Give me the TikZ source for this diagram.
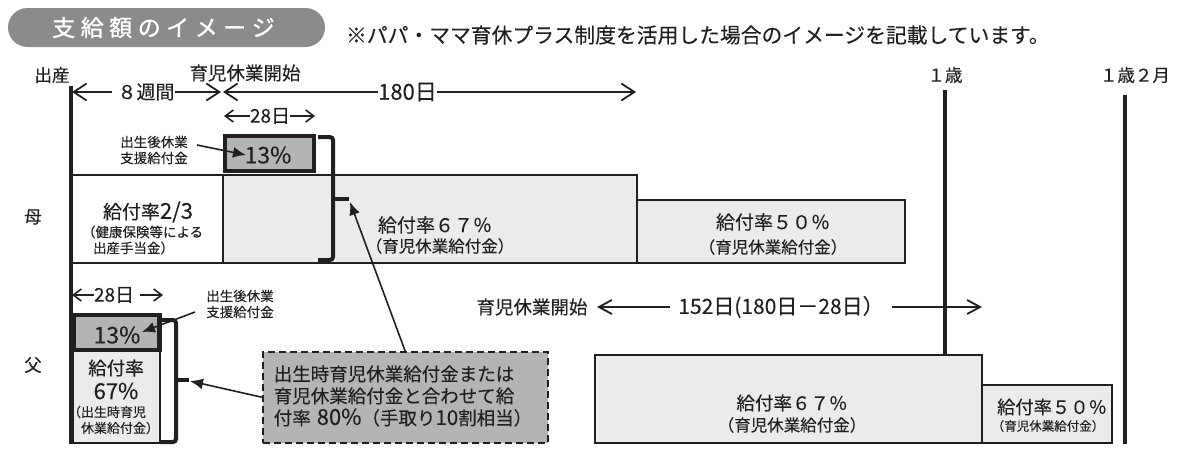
\documentclass[tikz,border=0pt]{standalone}
\usepackage{fontspec}
\setmainfont{Noto Sans CJK JP}[FakeBold=0.15]
\newfontfamily\titlefont{Noto Sans CJK JP}[FakeBold=1.2]
\usetikzlibrary{arrows.meta}
\definecolor{ink}{HTML}{231F20}
\definecolor{pillgray}{HTML}{8B8B8D}
\definecolor{lightfill}{HTML}{EBEBED}
\definecolor{midfill}{HTML}{B3B4B6}
\newcommand\fsz[2]{\fontsize{#1}{#2}\selectfont}
\tikzset{
  bigtip/.tip={Straight Barb[length=13pt,width=17pt,line width=1.8pt]},
  midtip/.tip={Straight Barb[length=13pt,width=14pt,line width=1.8pt]},
  smalltip/.tip={Straight Barb[length=8pt,width=12pt,line width=1.6pt]},
}
\begin{document}
\begin{tikzpicture}[x=1pt,y=-1pt,
  every node/.style={text=ink, inner sep=0pt, outer sep=0pt},
  plainbox/.style={draw=ink, line width=1.8pt, fill=lightfill},
  heavybox/.style={draw=ink, line width=4.5pt, fill=midfill},
  timeline/.style={draw=ink, line width=3.2pt},
  dimline/.style={draw=ink, line width=1.6pt},
  bracketline/.style={draw=ink, line width=4pt, rounded corners=3pt},
  pointer/.style={draw=ink, line width=1.6pt, -{Latex[length=13pt,width=11pt]}},
  calloutbox/.style={draw=ink, line width=2pt, dash pattern=on 7pt off 4pt, fill=midfill},
]
\useasboundingbox (0,0) rectangle (1197,458);

% title pill and note
\node[fill=pillgray, rounded corners=19.5pt, minimum width=317pt, minimum height=39pt] (title) at (166.5,27.5) {};
\node[text=white, font=\titlefont\fsz{23}{24}] (titletext) at (163.5,27.5) {支\kern5.5pt 給\kern5.5pt 額\kern5.5pt の\kern5.5pt イ\kern5.5pt メ\kern5.5pt ー\kern5.5pt ジ};
\node[anchor=west, font=\fsz{20.8}{22}] (remark) at (346,35) {※パパ・ママ育休プラス制度を活用した場合のイメージを記載しています。};

% timeline labels
\node[font=\fsz{17.5}{19}] (tBirth) at (52,75) {出産};
\node[font=\fsz{18.5}{20}] (tLeave) at (245,73) {育児休業開始};
\node[font=\fsz{17.5}{19}] (tOne) at (945,75) {１歳};
\node[font=\fsz{17.5}{19}] (tOneTwo) at (1135,75) {１歳２月};

% mother boxes
\node[plainbox, minimum width=414pt, minimum height=88pt] (m67) at (430,219) {};
\node[plainbox, fill=white, minimum width=152pt, minimum height=88pt] (m23) at (147,219) {};
\node[plainbox, minimum width=268pt, minimum height=63pt] (m50) at (771,231.5) {};
\node[heavybox, minimum width=89pt, minimum height=35pt] (m13) at (269.5,153.5) {};

% father boxes
\node[plainbox, minimum width=87pt, minimum height=93pt] (f67s) at (116.5,396.5) {};
\node[heavybox, minimum width=86pt, minimum height=35pt] (f13) at (116.5,332.5) {};
\node[plainbox, minimum width=387pt, minimum height=88pt] (f67) at (788.5,399) {};
\node[plainbox, minimum width=130pt, minimum height=58pt] (f50) at (1047,414) {};

% callout
\node[calloutbox, minimum width=285pt, minimum height=91pt] (note) at (405.5,397.5) {};
\node[align=left, font=\fsz{18.5}{22}] (notetext) at (403,396) {出生時育児休業給付金または\\育児休業給付金と合わせて給\\付率\hspace{6pt}{\fsz{22}{22}80\%}（手取り{\fsz{20.5}{22}10}割相当）};

% timeline vertical lines
\coordinate (birthTop) at (71,86);
\coordinate (birthBot) at (71,444);
\coordinate (oneTop) at (945,90);
\coordinate (oneBot) at (945,355);
\coordinate (oneTwoTop) at (1125,95);
\coordinate (oneTwoBot) at (1125,444);
\draw[timeline] (birthTop) -- (birthBot);
\draw[timeline] (oneTop) -- (oneBot);
\draw[timeline] (oneTwoTop) -- (oneTwoBot);

% top dimension arrows
\coordinate (a8L) at (72,92);
\coordinate (a8R) at (221,92);
\coordinate (a180L) at (223,92);
\coordinate (a180R) at (636,92);
\node[font=\fsz{19}{21}] (t8) at (146,92) {８週間};
\node[font=\fsz{22}{22}] (t180) at (407.5,92) {180日};
\draw[dimline,-bigtip,shorten <=6pt] (t8.west) -- (a8L);
\draw[dimline,-bigtip] (t8.east) -- (a8R);
\draw[dimline,-bigtip] (t180.west) -- (a180L);
\draw[dimline,-bigtip] (t180.east) -- (a180R);

\coordinate (b28L) at (224,116);
\coordinate (b28R) at (315,116);
\node[font=\fsz{19}{19}] (t28m) at (270,116) {28日};
\draw[dimline,-smalltip] (t28m.west) -- (b28L);
\draw[dimline,-smalltip] (t28m.east) -- (b28R);

% mother texts
\node[font=\fsz{17.5}{19}] (lMother) at (33,217) {母};
\node[font=\fsz{13.5}{16}, align=center] (mLab) at (154,150) {出生後休業\\支援給付金};
\node[font=\fsz{23}{24}] (m13t) at (268,155) {13\%};
\node[font=\fsz{19}{21}] (m23a) at (148,212) {給付率{\fsz{22}{22}2/3}};
\node[anchor=west, font=\fsz{13.5}{16}] (m23b) at (82,232) {（健康保険等による};
\node[anchor=west, font=\fsz{13.5}{16}] (m23c) at (93,248) {出産手当金）};
\node[font=\fsz{19}{21}] (m67a) at (435,225) {給付率６７％};
\node[font=\fsz{16.5}{18}] (m67b) at (440,246) {（育児休業給付金）};
\node[font=\fsz{19}{21}] (m50a) at (773,222) {給付率５０％};
\node[font=\fsz{16.5}{18}] (m50b) at (773,247) {（育児休業給付金）};

\coordinate (mLabOut) at (197,145);
\coordinate (m13In) at (246,155);
\draw[pointer] (mLabOut) -- (m13In);

% mother bracket
\draw[bracketline] (318,137) -- (333,137) -- (333,260) -- (318,260);
\draw[draw=ink, line width=3.5pt] (333,199) -- (349,199);
\coordinate (mtick) at (350,202);
\draw[pointer] (note.north) -- (mtick);

% father texts
\node[font=\fsz{17.5}{19}] (lFather) at (33,365) {父};
\coordinate (c28L) at (72,295);
\coordinate (c28R) at (163,295);
\node[font=\fsz{19}{19}] (t28f) at (114,295) {28日};
\draw[dimline,-smalltip] (t28f.west) -- (c28L);
\draw[dimline,-smalltip,shorten <=6pt] (t28f.east) -- (c28R);
\node[font=\fsz{13.5}{16}, align=center] (fLab) at (240,304) {出生後休業\\支援給付金};
\coordinate (fLabOut) at (195,312);
\coordinate (f13In) at (142,332);
\draw[pointer] (fLabOut) -- (f13In);
\node[font=\fsz{23}{24}] (f13t) at (117,335) {13\%};
\node[font=\fsz{18.5}{20}] (f67a) at (116,368) {給付率};
\node[font=\fsz{22}{22}] (f67b) at (116,391) {67\%};
\node[anchor=west, font=\fsz{13}{15}] (f67c) at (68,412) {（出生時育児};
\node[anchor=west, font=\fsz{13}{15}] (f67d) at (81,428) {休業給付金）};

% father bracket
\draw[bracketline] (162,320) -- (176,320) -- (176,442) -- (161,442);
\draw[draw=ink, line width=3.5pt] (176,380) -- (189,380);
\coordinate (ftick) at (190,381);
\draw[pointer] (note.west) -- (ftick);

% father second leave
\node[font=\fsz{18.5}{20}] (fStart) at (532,307) {育児休業開始};
\node[font=\fsz{21}{22}, inner xsep=8pt] (t152) at (781,307) {152日(180日－28日）};
\coordinate (c152L) at (597,307);
\coordinate (c152R) at (982,307);
\draw[dimline,-midtip] (t152.west) -- (c152L);
\draw[dimline,-midtip] (t152.east) -- (c152R);

\node[font=\fsz{18.5}{20}] (f67e) at (792,403) {給付率６７％};
\node[font=\fsz{16.5}{18}] (f67f) at (792,425) {（育児休業給付金）};
\node[font=\fsz{18.3}{20}] (f50a) at (1052,407) {給付率５０％};
\node[font=\fsz{12.5}{14}] (f50b) at (1048,426) {（育児休業給付金）};
\end{tikzpicture}
\end{document}
